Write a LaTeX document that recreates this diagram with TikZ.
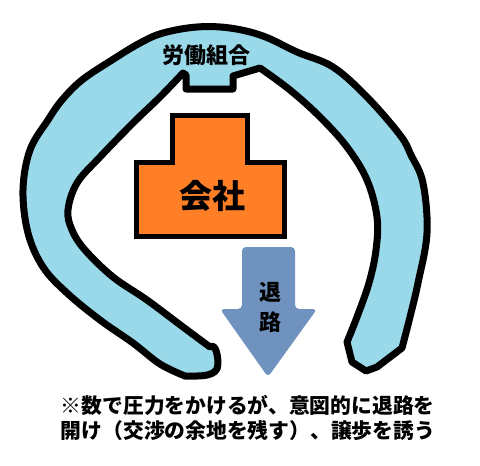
\documentclass[tikz,border=0pt]{standalone}
\usepackage{fontspec}
\setmainfont{Noto Sans CJK JP}
\usepackage{xcolor}
\usepackage{tikz}
\definecolor{bandblue}{RGB}{153,217,234}
\definecolor{firmorange}{RGB}{255,127,39}
\definecolor{exitblue}{RGB}{112,146,190}
\tikzstyle{band} = [draw=black, fill=bandblue, line width=7pt, line join=round]
\tikzstyle{company} = [draw=black, fill=firmorange, line width=5pt, line join=miter]
\tikzstyle{exit} = [fill=exitblue, rounded corners=4pt]
\tikzstyle{label} = [inner sep=0pt, font=\bfseries]
\begin{document}
\begin{tikzpicture}[x=1pt,y=-1pt]
				\useasboundingbox (0,0) rectangle (480,466);

				\draw [band] (183,73) -- (186,75) -- (186,89) -- (233,89) -- (233,76) -- (260,68)
					-- plot[smooth, tension=0.6] coordinates {(260,68) (290,90) (320,117) (347,147) (367,180) (377,217) (376,250) (369,283) (357,317) (347,342)}
					-- (352,362) -- (366,371) -- (377,367)
					-- plot[smooth, tension=0.6] coordinates {(402,348) (410,317) (418,283) (427,233) (423,183) (411,155) (400,135) (367,97) (333,67) (297,52) (263,36) (230,28) (197,27) (163,33) (140,43) (112,60) (82,80) (62,100) (48,120) (30,150) (23,190) (28,233) (43,267) (67,293) (100,320) (133,343) (160,364) (185,376)}
					to[out=0,in=-90] (218,364) to[out=90,in=35] (210,347)
					-- plot[smooth, tension=0.6] coordinates {(210,347) (183,327) (147,300) (113,277) (85,250) (72,230) (68,210) (77,183) (100,157) (133,123) (160,97) (183,73)}
					-- cycle;

				\draw [company] (136,236) -- (136,162) -- (172,162) -- (172,115) -- (247,115) -- (247,162) -- (284,162) -- (284,236) -- cycle;

				\fill [exit] (242,247) -- (295,247) -- (295,309) -- (317,309) -- (268,377) -- (220,309) -- (242,309) -- cycle;

				\node (union) [label, font=\fontsize{22}{26}\bfseries\selectfont] at (206,55) {労働組合};
				\node (firm) [label, font=\fontsize{33}{38}\bfseries\selectfont] at (212,196) {会社};
				\node (retreat) [label, font=\fontsize{22}{26}\bfseries\selectfont] at (270,292) {退};
				\node (road) [label, font=\fontsize{22}{26}\bfseries\selectfont, below of=retreat, node distance=30pt] {路};
				\node (note) [label, font=\fontsize{20.8}{25}\bfseries\selectfont, align=left] at (248,418) {※数で圧力をかけるが、意図的に退路を\\開け（交渉の余地を残す）、譲歩を誘う};

			\end{tikzpicture}
\end{document}
